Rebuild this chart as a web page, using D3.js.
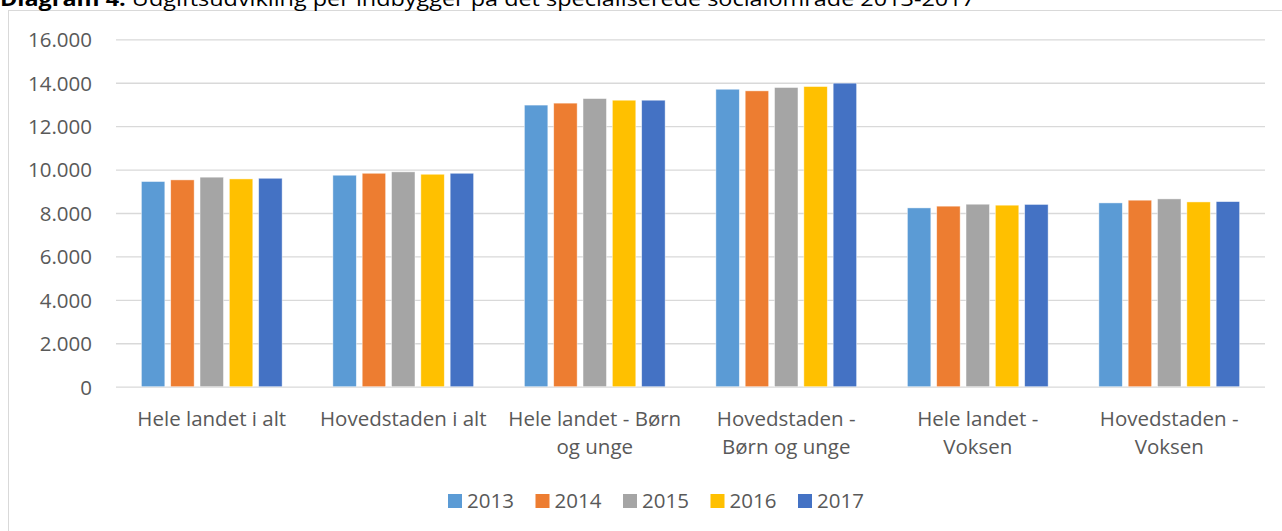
<!DOCTYPE html>
<html>
<head>
<meta charset="utf-8">
<script src="https://cdn.jsdelivr.net/npm/d3@7"></script>
<style>
  html, body { margin: 0; padding: 0; background: #fff; }
  svg { display: block; font-family: "Open Sans", sans-serif; }
</style>
</head>
<body>
<svg id="chart" width="1282" height="531"></svg>
<script>
const categories = [
  ["Hele landet i alt"],
  ["Hovedstaden i alt"],
  ["Hele landet - Børn", "og unge"],
  ["Hovedstaden -", "Børn og unge"],
  ["Hele landet -", "Voksen"],
  ["Hovedstaden -", "Voksen"]
];
const years = ["2013", "2014", "2015", "2016", "2017"];
const colors = ["#5B9BD5", "#ED7D31", "#A5A5A5", "#FFC000", "#4472C4"];
const v2013 = [9450, 9740, 12970, 13700, 8235, 8465];
const v2014 = [9525, 9830, 13060, 13625, 8315, 8590];
const v2015 = [9650, 9895, 13270, 13780, 8405, 8650];
const v2016 = [9570, 9785, 13195, 13825, 8360, 8510];
const v2017 = [9600, 9830, 13195, 13980, 8395, 8525];
const series = [v2013, v2014, v2015, v2016, v2017];
const yTicks = [0, 2000, 4000, 6000, 8000, 10000, 12000, 14000, 16000];
const tickLabels = ["0", "2.000", "4.000", "6.000", "8.000", "10.000", "12.000", "14.000", "16.000"];
const title = "Diagram 4:";
const titleRest = " Udgiftsudvikling per indbygger på det specialiserede socialområde 2013-2017";

const svg = d3.select("#chart");
const textColor = "#595959";
const fs = 20.5;

// frame
svg.append("rect").attr("x", 8.5).attr("y", 10.5).attr("width", 1290).attr("height", 540)
  .attr("fill", "none").attr("stroke", "#d9d9d9").attr("stroke-width", 1);

// title
const t = svg.append("text").attr("x", 0).attr("y", 5.5).attr("font-size", 20)
  .attr("fill", "#000").attr("textLength", 975).attr("lengthAdjust", "spacingAndGlyphs");
t.append("tspan").attr("font-weight", "bold").text(title);
t.append("tspan").text(titleRest);

const plotLeft = 116, plotRight = 1265, plotTop = 39.3, plotBottom = 386.7;
const y = d3.scaleLinear().domain([0, 16000]).range([plotBottom, plotTop]);
const x0 = d3.scaleBand().domain(d3.range(categories.length)).range([plotLeft, plotRight])
  .paddingInner(0.265).paddingOuter(0.1325);
const x1 = d3.scaleBand().domain(d3.range(years.length)).range([0, x0.bandwidth()]).paddingInner(0.2).paddingOuter(0);

// gridlines
const yAxis = d3.axisLeft(y).tickValues(yTicks).tickSize(-(plotRight - plotLeft))
  .tickFormat((d, i) => tickLabels[i]).tickPadding(24);
const ga = svg.append("g").attr("transform", `translate(${plotLeft},0)`).call(yAxis);
ga.select(".domain").remove();
ga.selectAll(".tick line").attr("stroke", "#d9d9d9").attr("stroke-width", 1.3);
ga.selectAll(".tick text").attr("fill", textColor).attr("font-size", fs)
  .attr("font-family", "Open Sans, sans-serif").attr("dy", "0.36em");

// bars
const groups = svg.append("g").selectAll("g").data(categories).join("g")
  .attr("transform", (d, i) => `translate(${x0(i)},0)`);
groups.selectAll("rect").data((d, i) => series.map((s, j) => ({ j, v: s[i] }))).join("rect")
  .attr("x", d => x1(d.j))
  .attr("width", x1.bandwidth())
  .attr("y", d => y(d.v))
  .attr("height", d => y(0) - y(d.v))
  .attr("fill", d => colors[d.j])
  .attr("stroke", "#fff").attr("stroke-opacity", 0.6).attr("stroke-width", 0.75);

// category labels
const xa = svg.append("g").selectAll("text").data(categories).join("text")
  .attr("x", (d, i) => x0(i) + x0.bandwidth() / 2)
  .attr("y", 425.5)
  .attr("text-anchor", "middle").attr("fill", textColor).attr("font-size", fs);
xa.selectAll("tspan").data(d => d).join("tspan")
  .attr("x", function () { return this.parentNode.getAttribute("x"); })
  .attr("dy", (d, i) => i === 0 ? 0 : 28.5)
  .text(d => d);

// legend
const legendX = 448, legendStep = 87.5;
const lg = svg.append("g").selectAll("g").data(years).join("g")
  .attr("transform", (d, i) => `translate(${legendX + i * legendStep},0)`);
lg.append("rect").attr("x", 0).attr("y", 494).attr("width", 14).attr("height", 14)
  .attr("fill", (d, i) => colors[i]);
lg.append("text").attr("x", 19).attr("y", 508).attr("fill", textColor).attr("font-size", fs).text(d => d);
</script>
</body>
</html>
